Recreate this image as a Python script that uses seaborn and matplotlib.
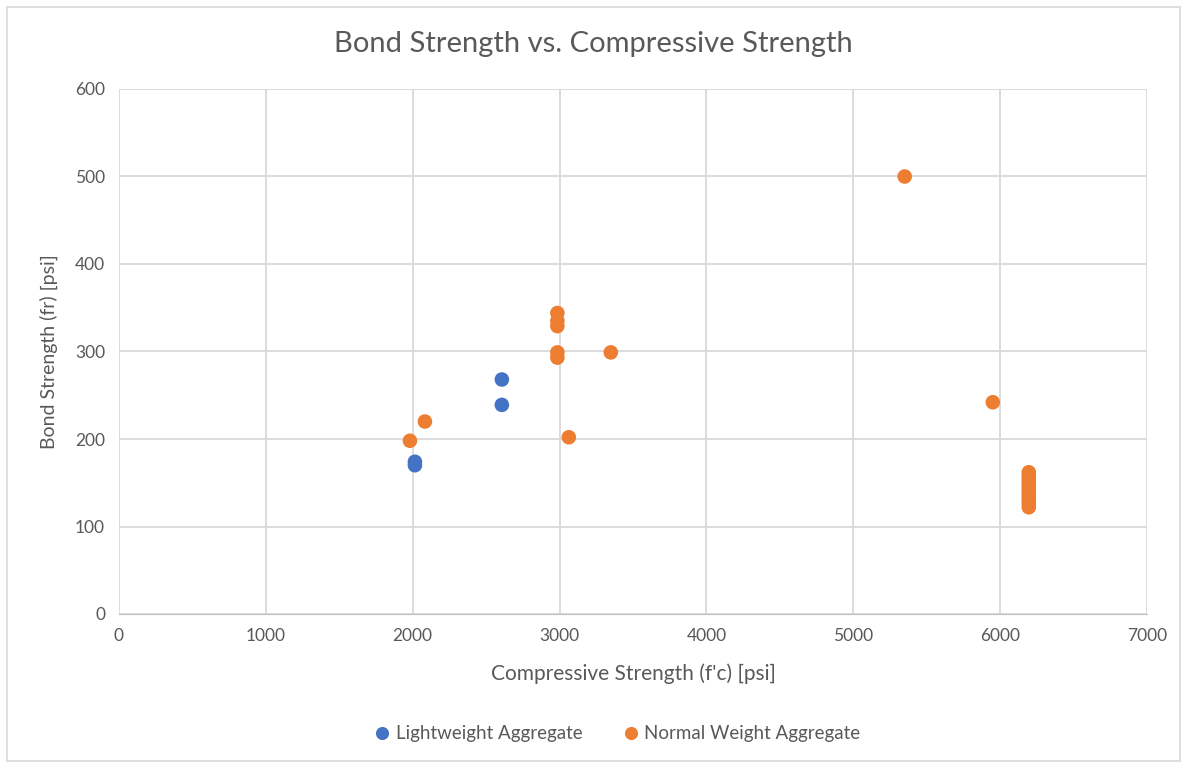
import matplotlib
matplotlib.use('Agg')
import matplotlib.pyplot as plt
import seaborn as sns
import pandas as pd

# data
lw_x = [2015, 2015, 2607, 2607]
lw_y = [170, 174, 239, 268]

nw_x = [1981, 2083, 2985, 2985, 2985, 2985, 2985, 3063, 3349, 5350, 5950,
        6195, 6195, 6195, 6195, 6195, 6195, 6195, 6195, 6195, 6195, 6195]
nw_y = [198, 220, 344, 335, 329, 299, 293, 202, 299, 500, 242,
        122, 126, 130, 134, 138, 142, 146, 150, 154, 158, 162]

df = pd.DataFrame({
    'x': lw_x + nw_x,
    'y': lw_y + nw_y,
    'grp': ['Lightweight Aggregate'] * len(lw_x) + ['Normal Weight Aggregate'] * len(nw_x),
})

sns.set_style('white')
plt.rcParams['font.family'] = ['Lato', 'DejaVu Sans']

fig = plt.figure(figsize=(11.87, 7.66), dpi=100)
ax = fig.add_axes([119 / 1187, 1 - 614 / 766, (1147 - 119) / 1187, (614 - 89) / 766])

sns.scatterplot(data=df, x='x', y='y', hue='grp',
                palette=['#4472C4', '#ED7D31'], s=110, linewidth=0, ax=ax, zorder=3)

ax.set_xlim(0, 7000)
ax.set_ylim(0, 600)
ax.set_xticks(range(0, 7001, 1000))
ax.set_yticks(range(0, 601, 100))
ax.grid(True, color='#d9d9d9', linewidth=1.3)
ax.set_axisbelow(True)
for s in ['top', 'right', 'left']:
    ax.spines[s].set_visible(False)
ax.spines['bottom'].set_color('#bfbfbf')
ax.tick_params(colors='#595959', labelsize=12.5, length=0, pad=10)

ax.set_xlabel("Compressive Strength (f'c) [psi]", fontsize=15, color='#595959', labelpad=14)
ax.set_ylabel('Bond Strength (fr) [psi]', fontsize=14, color='#595959', labelpad=12)
fig.text(0.5, 1 - 44 / 766, 'Bond Strength vs. Compressive Strength',
         ha='center', va='center', fontsize=21, color='#595959')

ax.legend(loc='center', bbox_to_anchor=(0.485, -0.228), ncol=2, frameon=False,
          fontsize=13.5, labelcolor='#595959', handlelength=0.8, handletextpad=0.3,
          columnspacing=2.2, markerscale=0.9)

# outer chart border
fig.patches.append(plt.Rectangle((0.006, 0.006), 0.988, 0.985, transform=fig.transFigure,
                                 fill=False, edgecolor='#d9d9d9', linewidth=1.2))

fig.savefig('out.png', dpi=100)
